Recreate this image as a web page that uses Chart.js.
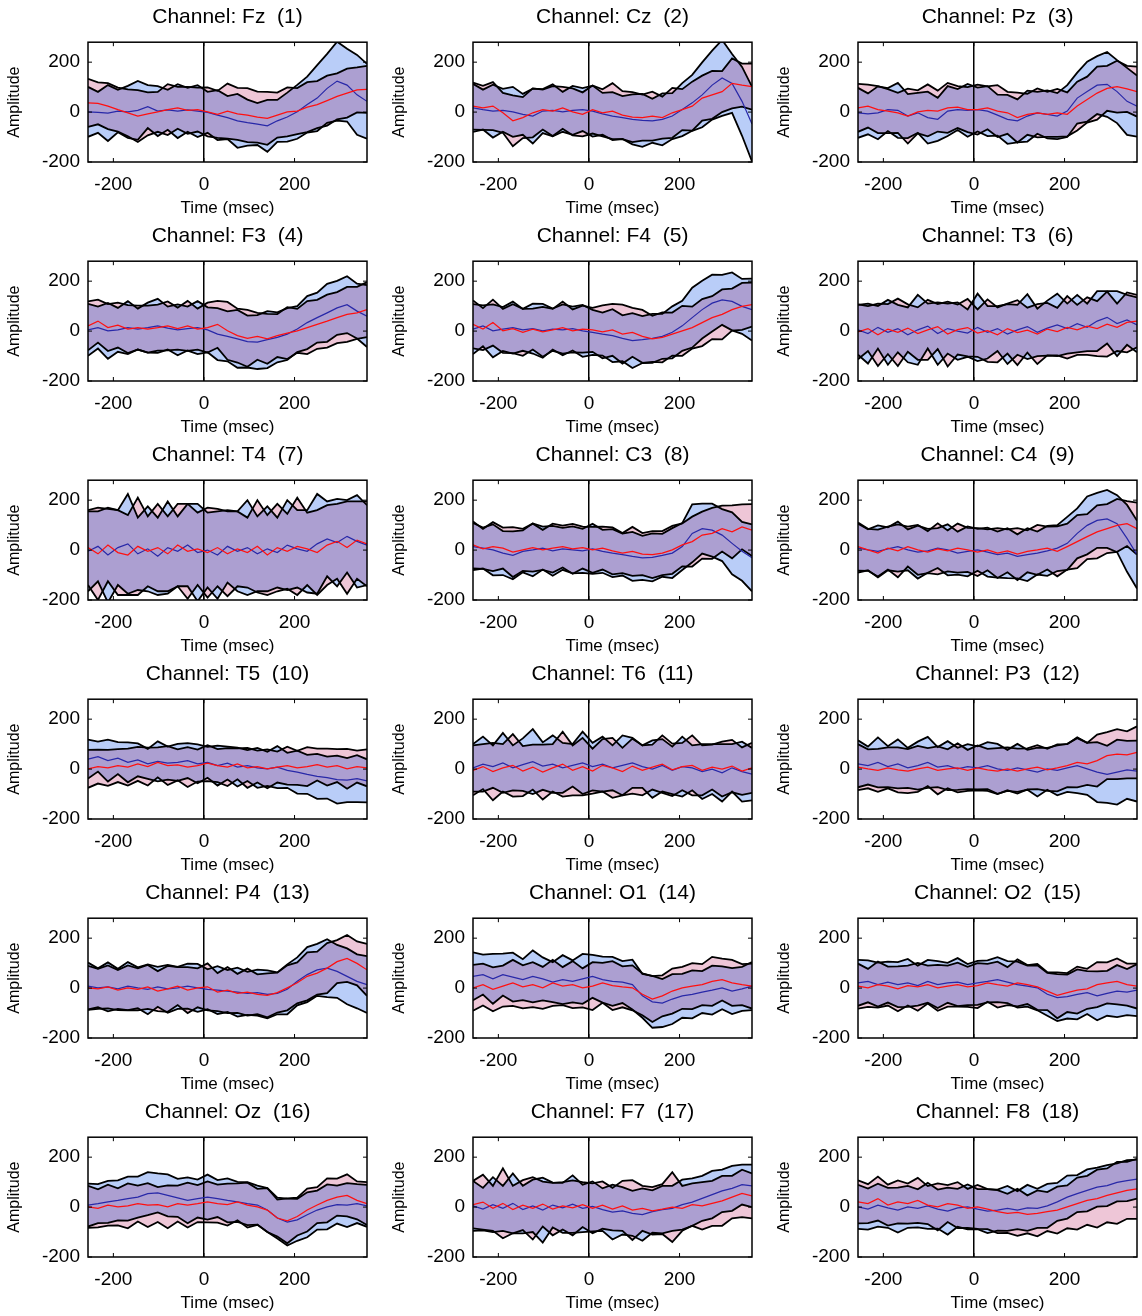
<!DOCTYPE html>
<html>
<head>
<meta charset="utf-8">
<title>Channel ERPs</title>
<script src="https://cdn.jsdelivr.net/npm/chart.js@4.4.1/dist/chart.umd.min.js"></script>
<style>
  body { margin: 0; background: #fff; }
  #grid { position: relative; width: 1142px; height: 1316px; overflow: hidden; }
  .cell { position: absolute; }
</style>
</head>
<body>
<div id="grid"></div>
<script>
// Data
const timeMs = [-256,-234,-212,-190,-168,-146,-124,-102,-80,-58,-36,-14,8,30,52,74,96,118,140,162,184,206,228,250,272,294,316,338,360];
const timeTicks = [-200, 0, 200];
const ampTicks = [-200, 0, 200];
const channelNames = ['Fz','Cz','Pz','F3','F4','T3','T4','C3','C4','T5','T6','P3','P4','O1','O2','Oz','F7','F8'];

// mean curves, one row per channel
const blueMean = [
  [1,-1,-4,4,1,7,22,4,9,4, 9,4,-1,-12,-22,-35,-42,-48,-55,-35, -20,1,30,56,95,124,108,69,43],
  [17,10,4,7,1,-9,-16,4,7,1, 7,10,4,-7,-16,-22,-29,-33,-35,-29, -16,10,37,69,108,137,115,43,-48],
  [-3,-7,-3,10,7,-16,-3,-22,-29,4, 10,7,10,4,-12,-29,-35,-16,-3,-9, -16,4,56,82,108,111,82,43,24],
  [5,14,1,5,14,8,14,21,12,5, 10,14,5,-12,-21,-31,-42,-44,-34,-25, -12,8,34,54,73,93,106,80,60],
  [8,21,1,8,14,5,10,1,8,5, 10,1,-5,-12,-18,-29,-38,-34,-29,-21, -5,21,54,86,112,125,119,99,86],
  [5,-10,15,-5,10,-15,5,20,-10,10, 0,-8,15,-5,10,-12,5,18,-5,12, 25,10,30,15,40,55,30,45,25],
  [-5,15,-20,10,25,-15,5,-25,10,-5, 20,-10,0,-20,15,-5,10,-15,5,-10, 20,5,-5,25,45,30,55,35,20],
  [14,8,1,-12,-21,-5,1,8,-3,5, 1,-3,5,-5,-12,-18,-25,-31,-29,-21, -12,14,67,86,80,60,27,-5,-31],
  [8,1,-5,5,14,1,-8,-3,8,1, -12,-5,1,-8,-18,-12,-25,-18,-12,-3, 8,27,67,99,119,125,106,47,-18],
  [40,50,34,44,27,37,21,31,24,27, 34,21,27,14,24,8,14,5,1,8, -5,-12,-21,-29,-34,-42,-44,-38,-47],
  [5,20,10,25,5,18,30,12,20,5, 15,25,10,20,5,15,25,10,0,15, -5,10,5,-10,0,-15,5,-10,-20],
  [21,14,27,10,21,5,14,27,8,14, 1,10,5,14,1,-5,5,-3,-12,1, -5,5,14,1,-12,-21,-12,-3,-8],
  [8,1,5,-3,8,1,-5,5,-3,1, 8,1,-5,-8,-12,-16,-21,-18,-25,-21, -5,27,54,73,80,67,47,27,14],
  [47,54,37,54,44,34,47,37,24,34, 27,37,47,34,27,24,14,-31,-55,-60, -44,-31,-25,-16,-8,1,-12,-3,8],
  [21,27,14,24,14,21,10,27,14,21, 24,14,21,27,34,24,14,8,1,-25, -38,-34,-25,-18,-31,-21,-12,-16,-8],
  [8,14,21,27,34,40,54,57,47,37, 27,34,40,34,27,21,14,8,-12,-44, -60,-51,-31,-12,1,10,8,14,5],
  [5,-8,10,-5,15,-10,5,-12,8,-3, 12,-5,3,-10,-20,-15,-25,-30,-18,-10, -5,10,20,35,50,65,75,90,85],
  [1,-8,8,-3,-12,1,-5,5,-8,-16, -3,1,-8,-16,-12,-5,-12,-3,-5,5, 21,40,54,67,80,86,99,106,112]
];
const redMean = [
  [37,35,24,10,-3,-16,-7,1,10,17, 7,10,1,-9,4,-7,-12,-20,-25,-12, 1,4,20,30,46,63,76,89,91],
  [24,17,24,-3,-35,-22,-3,10,4,17, 1,-9,10,-3,4,-12,-20,-22,-16,-22, -3,10,24,56,69,82,115,108,102],
  [17,24,10,4,-3,-16,1,7,4,17, 20,10,10,17,4,-3,-22,-9,-3,-9, -3,-9,24,50,76,95,102,93,82],
  [21,40,14,24,8,14,8,14,21,10, 21,8,14,27,1,-18,-29,-21,-31,-18, -8,1,14,27,40,54,67,73,86],
  [27,8,34,1,10,-5,8,-3,5,14, 1,8,5,-3,5,-12,-5,-21,-31,-25, -12,1,14,34,54,67,86,99,106],
  [-3,10,-15,8,-5,12,-10,5,18,-12, 6,14,-8,2,-15,10,-6,4,-12,8, -2,15,5,20,10,28,15,35,40],
  [10,-15,20,-10,-20,15,-5,10,-15,20, -5,5,-10,10,-15,5,-10,15,-20,10, -5,15,5,-10,20,35,10,40,25],
  [21,5,14,8,-8,1,10,1,8,14, 5,10,1,8,-3,-12,-5,-16,-18,-12, 1,21,34,60,67,86,73,93,80],
  [14,1,-12,8,-3,14,1,-8,5,-3, 8,1,-8,1,-12,-3,-16,-5,1,8, -5,14,34,54,73,86,99,106,86],
  [1,10,5,14,8,21,10,27,14,17, 8,14,24,14,8,21,5,10,1,8, 14,5,10,18,8,14,1,10,5],
  [-5,10,-10,5,15,-8,8,-12,5,20, -5,10,-8,15,5,-10,12,-5,8,20, -3,10,15,-5,8,0,12,-8,5],
  [8,1,-5,5,-3,-8,1,8,-5,1, 5,-5,5,-3,-8,1,-8,1,8,-3, 5,14,27,21,34,54,60,57,67],
  [1,-3,5,-8,1,-5,5,-12,-3,8, -8,1,5,-16,-8,-21,-16,-25,-29,-18, 1,21,47,60,80,106,119,99,73],
  [1,14,-5,8,21,5,14,1,21,8, 14,1,8,21,10,5,1,-25,-44,-31, -12,1,8,14,27,34,21,14,8],
  [8,1,14,8,-3,10,5,14,1,8, 14,5,10,21,14,8,21,14,5,-12, -29,-18,-8,-3,14,21,27,14,8],
  [1,-5,8,1,5,14,8,10,1,14, 8,14,21,14,10,21,8,1,-12,-44, -55,-38,-12,8,27,40,47,27,14],
  [10,20,-5,15,-10,8,-5,12,-8,5, -3,10,-5,8,-8,5,-12,-5,-15,-8, 0,-5,10,5,15,25,40,55,45],
  [21,14,34,8,21,14,27,8,1,14, 8,-5,1,-8,-18,-25,-21,-29,-25,-18, -12,1,14,27,34,47,57,67,73]
];

// half widths of the shaded bands (edges are ragged in the picture)
const blueSd = [
  [100,82,112,85,104,118,86,100,80,108, 88,104,82,100,86,108,92,84,104,84, 98,108,112,132,138,158,146,160,150],
  [96,80,106,86,100,82,110,88,104,80, 98,86,102,84,96,86,100,106,88,104, 92,106,112,130,138,152,118,138,150],
  [100,82,106,86,110,88,80,104,86,100, 82,106,88,100,82,98,86,102,84,96, 92,104,102,120,116,130,126,134,122],
  [104,84,112,88,106,82,100,108,86,102, 88,106,90,104,100,116,104,108,114,100, 104,92,106,100,116,108,114,110,124],
  [100,82,106,88,104,84,100,108,82,102, 88,104,90,86,106,92,110,94,98,90, 104,100,120,116,114,100,116,110,124],
  [100,120,85,130,95,110,140,90,125,100, 115,95,135,105,90,120,100,130,95,110, 125,100,115,95,120,105,130,100,110],
  [160,140,190,150,200,145,170,155,185,140, 165,195,150,175,145,160,190,150,170,140, 180,155,165,200,150,175,145,185,160],
  [94,82,102,88,96,84,106,86,100,84, 94,88,100,86,96,84,98,88,96,86, 100,94,116,100,106,104,124,118,134],
  [98,82,104,86,100,82,106,88,80,102, 86,100,84,98,92,100,88,106,86,100, 92,106,100,116,110,116,114,134,136],
  [78,60,84,64,80,66,60,80,66,74, 70,78,62,80,66,78,62,80,68,84, 70,86,78,90,84,96,88,94,86],
  [95,110,85,120,90,105,130,95,115,100, 85,125,95,110,90,120,100,85,115,105, 95,120,90,110,100,115,95,120,105],
  [94,76,100,82,98,80,96,102,80,98, 84,90,86,94,100,82,96,80,98,84, 100,96,110,104,120,114,130,116,122],
  [94,78,98,80,96,82,100,80,96,84, 90,96,80,96,84,98,86,92,96,84, 100,96,110,104,116,106,112,108,114],
  [96,80,100,84,98,82,104,86,80,98, 84,100,86,92,98,84,100,88,104,96, 100,88,96,84,98,86,92,88,96],
  [92,84,88,82,90,96,80,86,94,80, 96,82,88,84,90,84,92,82,90,86, 94,88,100,86,98,90,104,92,104],
  [86,78,84,80,88,82,86,78,84,76, 92,76,90,74,88,80,86,78,88,82, 94,84,90,78,90,76,88,78,84],
  [100,85,110,90,120,95,105,130,90,100, 115,95,100,85,110,95,90,105,85,95, 90,100,95,90,95,85,90,80,85],
  [88,82,86,80,90,84,76,92,78,94, 76,90,80,88,82,90,76,92,78,88, 76,86,74,84,78,82,76,82,78]
];
const redSd = [
  [96,84,92,88,94,104,86,80,102,84, 94,88,98,94,110,104,108,102,106,90, 98,92,100,94,100,92,98,90,94],
  [94,88,96,80,102,82,98,80,100,84, 94,88,96,94,112,96,100,92,98,84, 100,82,98,90,96,82,100,86,92],
  [96,86,94,88,80,110,86,104,82,100, 84,90,100,86,104,84,100,82,98,90, 96,88,98,92,106,90,104,92,100],
  [98,86,94,90,96,88,94,92,98,84, 100,82,100,94,116,108,114,94,100,86, 104,88,106,98,106,102,110,104,110],
  [96,84,92,88,98,94,82,100,84,104, 86,94,88,106,104,118,98,106,92,100, 86,100,84,94,86,100,84,94,88],
  [110,90,125,100,135,95,105,120,90,130, 100,115,95,125,110,100,130,90,120,105, 95,125,100,115,110,130,95,120,105],
  [150,185,145,170,160,195,140,175,150,165, 190,145,180,155,170,150,140,185,160,175, 150,195,145,170,160,150,185,155,170],
  [94,80,98,82,100,84,96,80,98,84, 100,84,92,86,94,80,98,84,94,88, 96,86,100,94,102,92,106,90,104],
  [96,84,94,86,106,80,100,84,102,82, 98,88,96,82,100,86,104,84,100,86, 100,92,106,90,106,98,106,90,104],
  [76,68,72,66,74,68,76,60,78,62, 80,64,72,66,76,62,80,64,78,62, 76,68,78,64,74,66,80,64,74],
  [100,90,115,95,125,100,90,110,95,130, 100,115,90,105,120,95,110,100,90,115, 105,95,120,100,90,110,105,95,100],
  [92,78,86,82,90,88,92,76,96,78, 98,82,90,84,92,86,90,82,88,84, 94,86,100,84,104,94,100,94,104],
  [88,80,86,80,90,84,88,80,92,76, 92,78,94,76,92,78,94,80,88,80, 90,82,96,86,100,86,94,88,104],
  [92,84,88,82,92,86,90,84,92,76, 94,78,96,80,98,82,90,84,92,82, 90,84,92,82,98,84,92,82,90],
  [90,76,92,78,90,80,96,76,92,82, 88,80,90,76,92,76,94,78,92,76, 92,78,94,80,90,82,92,84,90],
  [84,76,82,74,90,72,88,70,86,72, 90,74,82,76,84,74,90,72,88,74, 90,76,86,72,88,74,84,76,86],
  [95,110,90,140,95,100,125,90,105,95, 110,90,100,95,85,100,120,90,95,100, 140,90,85,95,90,100,85,95,90],
  [86,78,88,82,86,80,90,76,94,74, 92,78,88,80,86,78,94,76,92,78, 94,86,104,98,116,108,124,114,120]
];

const FONT = '"Liberation Sans", Arial, sans-serif';
const CELL_W = 385, CELL_H = 219, PLOT_RIGHT = 367;
const BLUE_FILL = 'rgb(185,205,248)';
const RED_FILL = 'rgb(238,198,215)';

function points(vals) {
  return timeMs.map((t, i) => ({ x: t, y: vals[i] }));
}
function edge(mean, sd, sign) {
  return timeMs.map((t, i) => ({ x: t, y: mean[i] + sign * sd[i] }));
}

// overlapping bands mix like the original (darker where both show)
const blendFills = {
  id: 'blendFills',
  beforeDraw(chart) { chart.ctx.globalCompositeOperation = 'multiply'; },
  beforeDatasetsDraw(chart) { chart.ctx.globalCompositeOperation = 'source-over'; }
};

// box around the plot plus inward tick marks
const frame = {
  id: 'frame',
  afterDraw(chart) {
    const { ctx, chartArea: a } = chart;
    const x = chart.scales.x, y = chart.scales.y;
    ctx.save();
    ctx.globalCompositeOperation = 'source-over';
    ctx.strokeStyle = '#000';
    ctx.lineWidth = 1.5;
    ctx.strokeRect(a.left, a.top, a.right - a.left, a.bottom - a.top);
    ctx.lineWidth = 1;
    ctx.beginPath();
    timeTicks.forEach(v => {
      const px = x.getPixelForValue(v);
      ctx.moveTo(px, a.top); ctx.lineTo(px, a.top + 4);
      ctx.moveTo(px, a.bottom); ctx.lineTo(px, a.bottom - 4);
    });
    ampTicks.forEach(v => {
      const py = y.getPixelForValue(v);
      ctx.moveTo(a.left, py); ctx.lineTo(a.left + 4, py);
      ctx.moveTo(a.right, py); ctx.lineTo(a.right - 4, py);
    });
    ctx.stroke();
    ctx.restore();
  }
};

const grid = document.getElementById('grid');

channelNames.forEach((name, i) => {
  const col = i % 3, row = Math.floor(i / 3);
  const w = Math.min(CELL_W, 1142 - col * CELL_W);

  const div = document.createElement('div');
  div.className = 'cell';
  div.style.left = (col * CELL_W) + 'px';
  div.style.top = (row * CELL_H) + 'px';
  const canvas = document.createElement('canvas');
  canvas.width = w;
  canvas.height = CELL_H;
  canvas.style.width = w + 'px';
  canvas.style.height = CELL_H + 'px';
  div.appendChild(canvas);
  grid.appendChild(div);

  new Chart(canvas, {
    type: 'line',
    data: {
      datasets: [
        { data: points(redMean[i]), borderColor: '#ff1010', borderWidth: 1.2, fill: false },
        { data: points(blueMean[i]), borderColor: '#2828a8', borderWidth: 1.2, fill: false },
        { data: edge(redMean[i], redSd[i], 1), borderColor: '#000', borderWidth: 1.8, backgroundColor: RED_FILL, fill: '+1' },
        { data: edge(redMean[i], redSd[i], -1), borderColor: '#000', borderWidth: 1.8, fill: false },
        { data: edge(blueMean[i], blueSd[i], 1), borderColor: '#000', borderWidth: 1.8, backgroundColor: BLUE_FILL, fill: '+1' },
        { data: edge(blueMean[i], blueSd[i], -1), borderColor: '#000', borderWidth: 1.8, fill: false }
      ]
    },
    options: {
      responsive: false,
      animation: false,
      devicePixelRatio: 1,
      layout: { padding: { left: 0, top: 0, right: w - PLOT_RIGHT, bottom: 0 } },
      elements: { point: { radius: 0 }, line: { tension: 0 } },
      plugins: {
        legend: { display: false },
        tooltip: { enabled: false },
        filler: { drawTime: 'beforeDatasetsDraw' },
        title: {
          display: true,
          text: `Channel: ${name}  (${i + 1})`,
          fullSize: false,
          color: '#000',
          font: { family: FONT, size: 21, weight: 'normal' },
          padding: { top: 5, bottom: 12 }
        }
      },
      scales: {
        x: {
          type: 'linear',
          min: -256,
          max: 360,
          afterBuildTicks: s => { s.ticks = timeTicks.map(v => ({ value: v })); },
          afterFit: s => { s.height = 57; },
          grid: {
            drawTicks: false,
            lineWidth: 1.5,
            color: c => (c.tick && c.tick.value === 0) ? '#000' : 'rgba(0,0,0,0)'
          },
          border: { display: false },
          ticks: { padding: 11, color: '#000', maxRotation: 0, autoSkip: false, font: { family: FONT, size: 19 } },
          title: { display: true, text: 'Time (msec)', color: '#000', font: { family: FONT, size: 17 }, padding: { top: 0, bottom: 0 } }
        },
        y: {
          min: -200,
          max: 280,
          afterBuildTicks: s => { s.ticks = ampTicks.map(v => ({ value: v })); },
          afterFit: s => { s.width = 88; },
          grid: { display: false, drawTicks: false },
          border: { display: false },
          ticks: { padding: 8, color: '#000', font: { family: FONT, size: 19 } },
          title: { display: true, text: 'Amplitude', color: '#000', font: { family: FONT, size: 16 }, padding: { top: 5, bottom: 0 } }
        }
      }
    },
    plugins: [blendFills, frame]
  });
});
</script>
</body>
</html>
